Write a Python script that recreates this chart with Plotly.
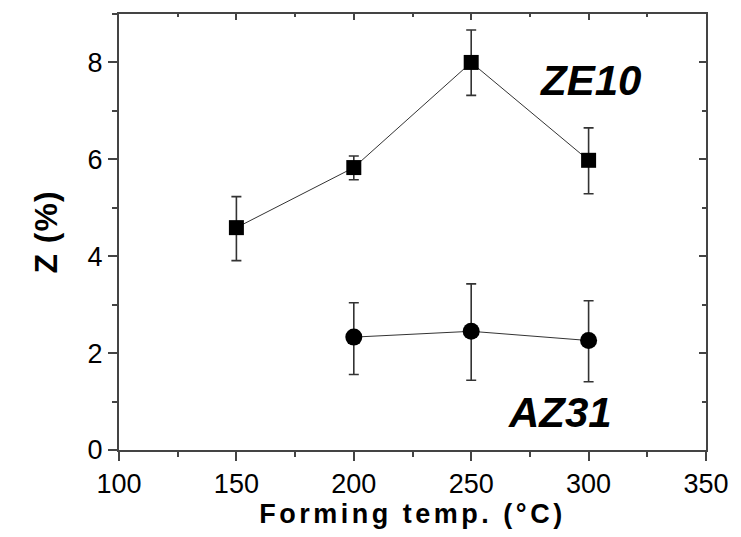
import plotly.graph_objects as go

temps_ze10 = [150, 200, 250, 300]
z_ze10 = [4.59, 5.83, 8.0, 5.98]
err_ze10_plus = [0.64, 0.24, 0.67, 0.67]
err_ze10_minus = [0.68, 0.25, 0.68, 0.69]

temps_az31 = [200, 250, 300]
z_az31 = [2.33, 2.45, 2.26]
err_az31_plus = [0.71, 0.98, 0.82]
err_az31_minus = [0.77, 1.01, 0.85]

x_ticks = [100, 150, 200, 250, 300, 350]
y_ticks = [0, 2, 4, 6, 8]

font = "Liberation Sans"
axis_col = "#444444"

fig = go.Figure()
fig.add_trace(go.Scatter(
    x=temps_ze10, y=z_ze10, mode="lines+markers",
    line=dict(color="#333333", width=1),
    marker=dict(symbol="square", size=15, color="black"),
    error_y=dict(type="data", array=err_ze10_plus, arrayminus=err_ze10_minus,
                 color="#333333", thickness=1.6, width=5),
    showlegend=False))
fig.add_trace(go.Scatter(
    x=temps_az31, y=z_az31, mode="lines+markers",
    line=dict(color="#333333", width=1),
    marker=dict(symbol="circle", size=17, color="black"),
    error_y=dict(type="data", array=err_az31_plus, arrayminus=err_az31_minus,
                 color="#333333", thickness=1.6, width=5),
    showlegend=False))
# dummy trace for mirrored inner-tick axes
fig.add_trace(go.Scatter(x=[None], y=[None], xaxis="x2", yaxis="y2",
                         showlegend=False, hoverinfo="skip"))

fig.add_annotation(x=301, y=7.63, text="<b><i>ZE10</i></b>", showarrow=False,
                   font=dict(family=font, size=42, color="black"))
fig.add_annotation(x=288, y=0.78, text="<b><i>AZ31</i></b>", showarrow=False,
                   font=dict(family=font, size=42, color="black"))

fig.update_layout(
    width=741, height=537,
    margin=dict(l=119, r=27, t=13, b=87),
    plot_bgcolor="white", paper_bgcolor="white",
    font=dict(family=font, color="black", size=27),
    xaxis=dict(range=[100, 350], tickmode="array", tickvals=x_ticks,
               ticks="outside", ticklen=9, tickwidth=2, tickcolor=axis_col,
               showline=True, mirror=True, linecolor=axis_col, linewidth=2,
               showgrid=False, zeroline=False,
               tickfont=dict(size=27, family=font, color="black"),
               minor=dict(ticks="outside", ticklen=5, tickwidth=2, tickcolor=axis_col, dtick=25, tick0=100),
               title=dict(text='<span style="letter-spacing:3.5px"><b>Forming temp. (°C)</b></span>',
                          font=dict(size=27, family=font), standoff=1)),
    yaxis=dict(range=[0, 9], tickmode="array", tickvals=y_ticks,
               ticks="outside", ticklen=9, tickwidth=2, tickcolor=axis_col,
               showline=True, mirror=True, linecolor=axis_col, linewidth=2,
               showgrid=False, zeroline=False,
               tickfont=dict(size=27, family=font, color="black"),
               minor=dict(ticks="outside", ticklen=5, tickwidth=2, tickcolor=axis_col, dtick=1, tick0=0),
               title=dict(text='<span style="letter-spacing:1px"><b>Z (%)</b></span>',
                          font=dict(size=32, family=font), standoff=20)),
    xaxis2=dict(range=[100, 350], overlaying="x", side="top", tickmode="array", tickvals=x_ticks,
                ticks="inside", ticklen=6, tickwidth=2, tickcolor=axis_col,
                showticklabels=False, showgrid=False, zeroline=False, showline=False,
                minor=dict(ticks="inside", ticklen=3, tickwidth=2, tickcolor=axis_col, dtick=25, tick0=100)),
    yaxis2=dict(range=[0, 9], overlaying="y", side="right", tickmode="array", tickvals=y_ticks,
                ticks="inside", ticklen=7, tickwidth=2, tickcolor=axis_col,
                showticklabels=False, showgrid=False, zeroline=False, showline=False,
                minor=dict(ticks="inside", ticklen=4, tickwidth=2, tickcolor=axis_col, dtick=1, tick0=0)),
)

fig.write_html("out.html")
